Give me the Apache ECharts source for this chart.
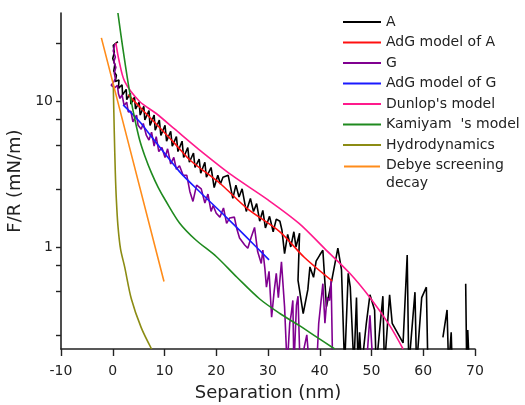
<!DOCTYPE html>
<html>
<head>
<meta charset="utf-8">
<script src="https://cdn.jsdelivr.net/npm/echarts@6/dist/echarts.min.js"></script>
<style>
  html, body { margin: 0; padding: 0; background: #fff; }
  #chart { width: 525px; height: 405px; }
</style>
</head>
<body>
<div id="chart"></div>
<script>
// separation (nm), F/R (mN/m)
var dadosA = [
  [1.0,25.5],[0.1,24.0],[0.3,21.5],[0.0,19.5],[0.4,17.8],[0.2,16.0],[0.7,15.0],[0.5,13.6],[1.2,13.9],[1.1,12.2],
  [1.8,12.9],[1.9,11.0],[2.6,12.0],[2.7,10.2],[3.4,11.3],[3.5,9.5],[4.2,10.6],[4.4,8.8],[5.1,9.8],[5.3,8.0],
  [6.0,9.2],[6.2,7.4],[7.0,8.6],[7.2,6.8],[8.0,8.0],[8.2,6.3],[9.0,7.4],[9.3,5.8],[10.1,6.8],[10.4,5.3],
  [11.2,6.2],[11.5,4.9],[12.3,5.7],[12.6,4.5],[13.4,5.3],[13.7,4.1],[14.5,4.8],[14.8,3.8],[15.6,4.4],[15.9,3.5],
  [16.7,4.0],[17.0,3.2],[17.8,3.8],[18.1,3.0],[19.0,3.5],[19.6,2.55],[20.3,3.1],[20.8,2.7],[21.3,3.0],[22.3,3.1],
  [23.2,2.15],[23.8,2.65],[24.4,2.2],[25.0,2.5],[25.8,1.75],[26.6,2.15],[27.2,1.75],[27.8,1.98],[28.4,1.5],[29.0,1.78],
  [29.5,1.35],[30.3,1.62],[31.0,1.27],[31.6,1.55],[32.3,1.5],[32.7,1.3],[33.2,0.9],[33.8,1.22],[34.4,1.0],[35.0,1.27],
  [35.4,1.0],[36.1,1.24],[35.8,0.59],[36.8,0.35],[37.7,0.51],[38.1,0.73],[38.8,0.62],[39.3,0.8],[40.0,0.88],[40.6,0.95],
  [41.3,0.39],[42.2,0.56],[43.5,0.98],[44.2,0.7],[44.8,0.15],[45.5,0.66],[45.9,0.53],[46.6,0.15],[47.1,0.45],[47.4,0.15],
  [47.7,0.26],[48.1,0.15],[49.0,0.3],[49.7,0.47],[50.6,0.37],[50.9,0.15],[52.2,0.46],[52.5,0.15],[53.5,0.47],[54.0,0.3],
  [56.1,0.22],[56.9,0.88],[57.2,0.15],[58.4,0.49],[58.7,0.15],[59.7,0.45],[60.6,0.53],[60.9,0.15],[62.0,'-'],
  [63.8,0.24],[64.6,0.37],[64.9,0.15],[65.4,0.26],[65.6,0.15],[66.5,'-'],
  [68.2,0.56],[68.4,0.15],[68.6,0.27],[68.9,0.15]
];
var dadosG = [
  [0.4,24.5],[0.1,22.0],[0.5,20.0],[0.2,18.5],[0.6,17.0],[0.3,15.5],[0.5,14.2],[0.2,13.5],[-0.3,12.8],[0.4,12.3],
  [0.9,12.8],[1.1,11.2],[1.4,10.4],[1.8,11.0],[2.2,9.3],[2.7,9.8],[3.0,8.4],[3.5,8.5],[3.9,7.2],[4.6,8.0],
  [4.9,6.8],[5.5,6.4],[5.9,7.0],[6.5,5.8],[7.0,5.4],[7.5,6.1],[8.0,4.9],[8.4,5.7],[8.9,4.5],[9.5,4.8],
  [10.1,4.1],[10.6,4.7],[11.2,3.7],[11.8,4.1],[12.3,3.4],[12.9,3.6],[13.6,3.1],[14.3,3.1],[14.9,2.4],[15.5,2.05],
  [16.2,2.65],[17.1,2.5],[17.8,2.0],[18.4,2.3],[19.0,1.75],[19.4,1.92],[20.0,1.7],[20.7,1.6],[21.4,1.85],[22.0,1.45],
  [22.6,1.58],[23.5,1.6],[24.0,1.32],[24.5,1.15],[25.5,1.03],[26.1,0.98],[26.7,1.15],[27.4,1.36],[28.0,0.93],[28.7,0.77],
  [29.0,0.95],[29.4,0.71],[29.7,0.53],[30.2,0.68],[30.7,0.33],[31.2,0.5],[31.6,0.66],[32.0,0.45],[32.6,0.79],[33.2,0.39],
  [33.7,0.15],[34.2,0.3],[34.5,0.35],[34.8,0.43],[35.0,0.15],[35.5,0.4],[35.8,0.46],[36.2,0.15],[37.5,0.25],[38.0,0.15],
  [39.4,0.15],[39.8,0.3],[40.6,0.56],[41.0,0.3],[41.4,0.45],[41.9,0.43],[42.2,0.59],[42.5,0.15],[45.0,'-'],
  [49.0,0.15],[49.7,0.34],[50.3,0.15]
];
var modeloA = [[3.0,11.0],[6.0,8.5],[9.0,6.6],[12.0,5.1],[14.9,3.94],[20.7,2.73],[26.0,1.83],[32.3,1.27],[37.0,0.85],[42.4,0.585]];
var modeloG = [[2.0,9.4],[5.2,7.2],[7.8,5.5],[12.9,3.28],[17.0,2.35],[21.0,1.72],[25.5,1.2],[30.2,0.815]];
var dunlop = [[0.6,25],[1.2,19],[2.3,13.6],[5.2,9.9],[8.4,8.2],[12.0,6.4],[16.5,4.7],[23.0,3.1],[30.0,2.1],[36.0,1.45],[41.0,0.97],[45.8,0.66],[49.7,0.45],[53.5,0.29],[56.1,0.2]];
var kamiyama = [[1.0,40],[1.6,28],[2.2,20],[2.8,14.5],[3.5,10.3],[4.3,7.4],[5.2,5.4],[6.2,4.2],[7.5,3.2],[8.8,2.55],[10.2,2.08],[12.9,1.46],[16.0,1.12],[20.0,0.86],[24.0,0.62],[28.4,0.44],[32.3,0.35],[36.0,0.29],[39.5,0.24],[42.9,0.2]];
var hidro = [[0.1,13],[0.3,6],[0.5,3.2],[0.7,2.1],[1.0,1.4],[1.5,0.97],[2.3,0.73],[3.6,0.44],[5.5,0.28],[7.5,0.2]];
var debye = [[-2.2,27],[3.9,3.9],[9.9,0.58]];

var yTicks = [0.25, 0.5, 0.75, 1, 2.5, 5, 7.5, 10, 25];
var yLabels = [1, 10];

var fonte = 'DejaVu Sans';
// legend icons: a 2px line, the box is padded so the line sits where the text is
var iconeLinha = 'path://M0,0 L0.01,0 M0,8 L38,8 L38,10 L0,10 Z M0,18 L0.01,18';
var iconeTopo = 'path://M0,0 L0.01,0 M0,-1 L38,-1 L38,1 L0,1 Z M0,18 L0.01,18';

var chart = echarts.init(document.getElementById('chart'));

function linha(nome, dados, cor, suave){
  return {
    name: nome,
    type: 'line',
    data: dados,
    symbol: 'none',
    smooth: suave ? 0.3 : false,
    connectNulls: false,
    clip: true,
    lineStyle: { color: cor, width: 1.6 },
    itemStyle: { color: cor }
  };
}

var option = {
  animation: false,
  backgroundColor: '#fff',
  grid: { left: 61, right: 50, top: 13, bottom: 56, outerBoundsMode: 'none', containLabel: false },
  legend: {
    orient: 'vertical',
    left: 338,
    top: 8,
    icon: iconeLinha,
    itemWidth: 38,
    itemHeight: 18,
    itemGap: 2.5,
    selectedMode: false,
    textStyle: { fontFamily: fonte, fontSize: 14, color: '#222', lineHeight: 18 },
    data: ['A', 'AdG model of A', 'G', 'AdG model of G', "Dunlop's model", "Kamiyam  's model", 'Hydrodynamics',
      { name: 'Debye screening\ndecay', icon: iconeTopo }]
  },
  xAxis: {
    type: 'value',
    min: -10, max: 70, interval: 10,
    name: 'Separation (nm)',
    nameLocation: 'middle',
    nameGap: 35,
    nameTextStyle: { fontFamily: fonte, fontSize: 18, color: '#222' },
    axisLine: { onZero: false, lineStyle: { color: '#222', width: 1.6 } },
    axisTick: { length: 7, lineStyle: { color: '#222', width: 1.4 } },
    axisLabel: { fontFamily: fonte, fontSize: 14, color: '#222', margin: 15 },
    splitLine: { show: false }
  },
  yAxis: {
    type: 'log',
    logBase: 10,
    min: 0.2, max: 40,
    name: 'F/R (mN/m)',
    nameLocation: 'middle',
    nameGap: 32,
    nameTextStyle: { fontFamily: fonte, fontSize: 18, color: '#222' },
    axisLine: { onZero: false, lineStyle: { color: '#222', width: 1.6 } },
    axisTick: { length: 5, customValues: yTicks, lineStyle: { color: '#222', width: 1.4 } },
    axisLabel: { fontFamily: fonte, fontSize: 14, color: '#222', margin: 8, customValues: yLabels },
    splitLine: { show: false }
  },
  series: [
    linha('A', dadosA, '#000000', false),
    linha('G', dadosG, '#800090', false),
    linha('AdG model of A', modeloA, '#ff1010', true),
    linha('AdG model of G', modeloG, '#1a1aff', true),
    linha("Dunlop's model", dunlop, '#ff1a8c', true),
    linha("Kamiyam  's model", kamiyama, '#1f8a1f', true),
    linha('Hydrodynamics', hidro, '#8c8c14', true),
    linha('Debye screening\ndecay', debye, '#ff8c1a', false)
  ]
};

chart.setOption(option);
</script>
</body>
</html>
